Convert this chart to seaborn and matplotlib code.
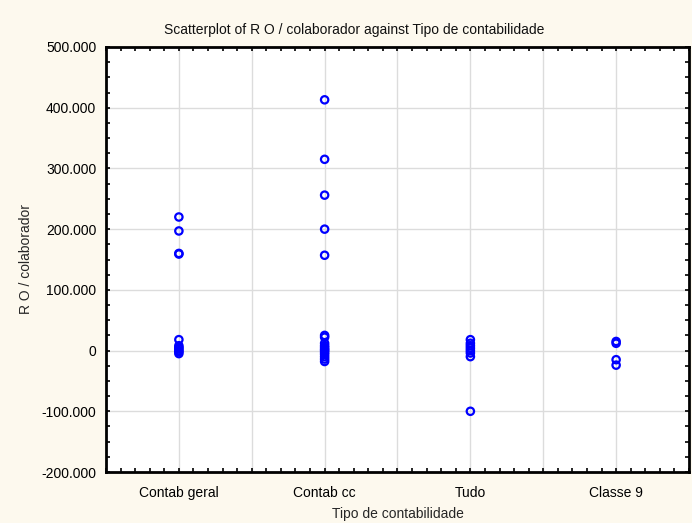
import numpy as np
import pandas as pd
import matplotlib
matplotlib.use("Agg")
import matplotlib.pyplot as plt
from matplotlib.ticker import FixedLocator, MultipleLocator, FuncFormatter
import seaborn as sns

categories = ["Contab geral", "Contab cc", "Tudo", "Classe 9"]
contab_geral = [220000, 197000, 160000, 159000, 18000, 8000, 5000, 3000, 0, -2000, -5000]
contab_cc = [413000, 315000, 256000, 200000, 157000, 25000, 22000, 12000, 8000, 5000, 2000,
             0, -3000, -6000, -10000, -14000, -18000]
tudo = [18000, 12000, 8000, 4000, 0, -4000, -10000, -100000]
classe9 = [15000, 12000, -15000, -24000]
y_ticks = [-200000, -100000, 0, 100000, 200000, 300000, 400000, 500000]

rows = []
for cat, vals in zip(categories, [contab_geral, contab_cc, tudo, classe9]):
    for v in vals:
        rows.append({"Tipo de contabilidade": cat, "R O / colaborador": v})
df = pd.DataFrame(rows)
df["Tipo de contabilidade"] = pd.Categorical(df["Tipo de contabilidade"], categories=categories, ordered=True)
df["xpos"] = df["Tipo de contabilidade"].cat.codes

sns.set_theme(style="white")
plt.rcParams["font.family"] = ["Liberation Sans", "DejaVu Sans"]

bg = "#FDF9EE"
fig = plt.figure(figsize=(6.92, 5.23), dpi=100, facecolor=bg)
ax = fig.add_axes([106 / 692, 1 - 472 / 523, (689 - 106) / 692, (472 - 47) / 523])
ax.set_facecolor("white")

sns.scatterplot(data=df, x="xpos", y="R O / colaborador", ax=ax, marker="o", s=28,
                facecolor="none", edgecolor="#0000FF", linewidth=1.6, zorder=3)

ax.set_xlim(-0.5, 3.5)
ax.set_ylim(-200000, 500000)

ax.xaxis.set_major_locator(FixedLocator(np.arange(-0.5, 3.51, 0.5)))
ax.xaxis.set_minor_locator(MultipleLocator(0.1))
def xfmt(v, p):
    r = round(v)
    if abs(v - r) < 1e-6 and 0 <= r < len(categories):
        return categories[r]
    return ""
ax.xaxis.set_major_formatter(FuncFormatter(xfmt))

ax.yaxis.set_major_locator(FixedLocator(y_ticks))
ax.yaxis.set_minor_locator(MultipleLocator(25000))
def yfmt(v, p):
    if v == 0:
        return "0"
    return f"{int(v):,}".replace(",", ".")
ax.yaxis.set_major_formatter(FuncFormatter(yfmt))

ax.grid(True, which="major", color="#DCDCDC", linewidth=1.0, zorder=0)
ax.set_axisbelow(True)

ax.tick_params(axis="both", which="both", direction="in", length=3, width=1.2,
               color="black", top=True, right=True, bottom=True, left=True,
               labelsize=10, labelcolor="black")
ax.tick_params(axis="x", which="major", pad=10)
ax.tick_params(axis="y", which="major", pad=7)

for s in ax.spines.values():
    s.set_color("black")
    s.set_linewidth(2)
    s.set_visible(True)

fig.text(354 / 692, 1 - 30 / 523,
         "Scatterplot of R O / colaborador against Tipo de contabilidade",
         fontsize=10, color="#111111", ha="center", va="center")
ax.set_xlabel("Tipo de contabilidade", fontsize=10, labelpad=5)
ax.set_ylabel("R O / colaborador", fontsize=10, labelpad=6)

fig.savefig("out.png", dpi=100, facecolor=bg)
